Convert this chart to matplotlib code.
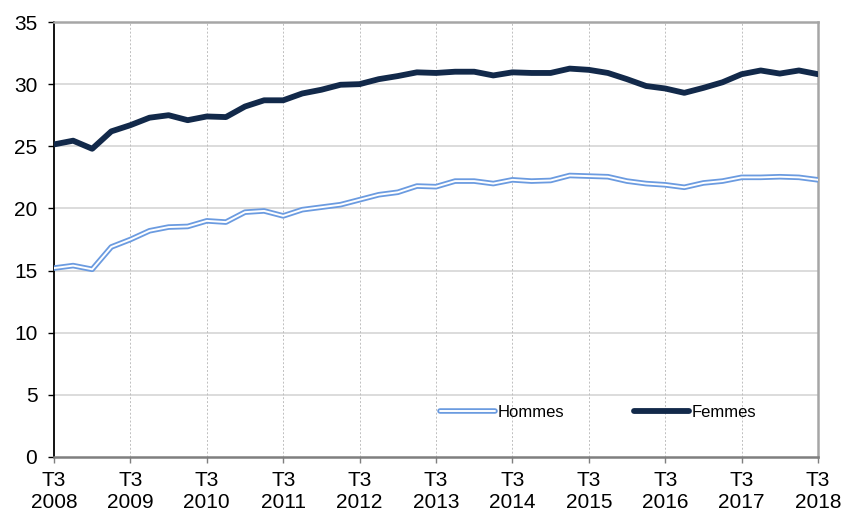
import numpy as np
import matplotlib
matplotlib.use("Agg")
import matplotlib.pyplot as plt

plt.rcParams['font.family'] = ['Liberation Sans Narrow', 'Liberation Sans', 'DejaVu Sans']

# quarterly series, T3 2008 .. T3 2018
years = list(range(2008, 2019))
hommes = [15.2, 15.4, 15.1, 16.9, 17.5, 18.2, 18.5, 18.55, 19.0, 18.9,
          19.7, 19.8, 19.4, 19.9, 20.1, 20.3, 20.7, 21.1, 21.3, 21.8,
          21.75, 22.2, 22.2, 22.0, 22.3, 22.2, 22.25, 22.65, 22.6, 22.55,
          22.2, 22.0, 21.9, 21.7, 22.05, 22.2, 22.5, 22.5, 22.55, 22.5, 22.3]
femmes = [25.15, 25.45, 24.8, 26.2, 26.7, 27.3, 27.5, 27.1, 27.4, 27.35,
          28.2, 28.7, 28.7, 29.25, 29.55, 29.95, 30.0, 30.4, 30.65, 30.95,
          30.9, 31.0, 31.0, 30.7, 30.95, 30.9, 30.9, 31.25, 31.15, 30.9,
          30.4, 29.85, 29.65, 29.3, 29.7, 30.15, 30.8, 31.1, 30.85, 31.1, 30.8]
tick_labels = ["T3\n%d" % y for y in years]

x = np.arange(len(femmes))

fig = plt.figure(figsize=(8.43, 5.16), dpi=100)
ax = fig.add_axes([54 / 843, 59 / 516, 764 / 843, 435 / 516])

# grid
for yv in range(5, 35, 5):
    ax.axhline(yv, color='#d9d9d9', lw=1.3, zorder=0)
for xv in range(4, 40, 4):
    ax.axvline(xv, color='#bfbfbf', lw=0.7, ls=(0, (2, 2)), zorder=0)

# Hommes drawn as a double line: wide blue stroke with a thin white core
h_outer, = ax.plot(x, hommes, color='#6b9be0', lw=4.0, solid_capstyle='round', zorder=3)
h_inner, = ax.plot(x, hommes, color='white', lw=1.4, solid_capstyle='round', zorder=4)
f_line, = ax.plot(x, femmes, color='#12294a', lw=4.2, solid_capstyle='round', zorder=5)

ax.set_xlim(0, 40)
ax.set_ylim(0, 35)
ax.set_yticks(range(0, 36, 5))
ax.set_xticks(range(0, 41, 4))
ax.set_xticklabels(tick_labels)

ax.spines['left'].set_color('black')
ax.spines['left'].set_linewidth(1.3)
ax.spines['bottom'].set_color('#7f7f7f')
ax.spines['bottom'].set_linewidth(1.8)
ax.spines['top'].set_color('#a6a6a6')
ax.spines['top'].set_linewidth(1.8)
ax.spines['right'].set_color('#a6a6a6')
ax.spines['right'].set_linewidth(1.8)

ax.tick_params(axis='y', length=4, width=1, color='black', labelsize=15, pad=8)
ax.tick_params(axis='x', length=4, width=1, color='#7f7f7f', labelsize=15, pad=6)

leg = ax.legend([(h_outer, h_inner), f_line], ['Hommes', 'Femmes'],
                ncol=2, frameon=False, fontsize=12, handlelength=3.3,
                handletextpad=0.15, columnspacing=4.2,
                loc='center', bbox_to_anchor=(0.712, 0.102))

fig.savefig('out.png', dpi=100)
